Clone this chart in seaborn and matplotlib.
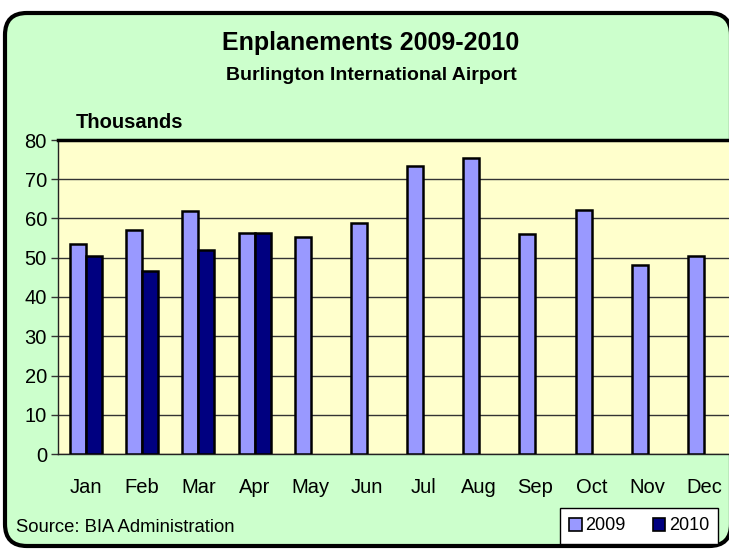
import pandas as pd
import seaborn as sns
import matplotlib.pyplot as plt
from matplotlib.patches import FancyBboxPatch, Patch

# Monthly enplanements, thousands
months = ["Jan", "Feb", "Mar", "Apr", "May", "Jun",
          "Jul", "Aug", "Sep", "Oct", "Nov", "Dec"]
y2009 = [53.5, 57.1, 62.0, 56.4, 55.4, 58.9, 73.5, 75.5, 56.1, 62.1, 48.2, 50.4]
y2010 = [50.5, 46.7, 52.0, 56.2, None, None, None, None, None, None, None, None]
years = ["2009", "2010"]
colors = {"2009": "#9999FF", "2010": "#000080"}

df = pd.DataFrame({"Month": months * 2,
                   "Year": ["2009"] * 12 + ["2010"] * 12,
                   "Value": y2009 + y2010})

sns.set_theme(style="white")
plt.rcParams["font.family"] = ["Liberation Sans", "DejaVu Sans"]
plt.rcParams["text.color"] = "black"
plt.rcParams["xtick.color"] = "black"
plt.rcParams["ytick.color"] = "black"

fig = plt.figure(figsize=(7.29, 5.52), dpi=100)
fig.patch.set_facecolor("white")

# rounded green background box, clipped on the right like the original
W, H = 729, 552
box = FancyBboxPatch((5 / W, 6 / H), 726 / W, 533 / H,
                     boxstyle="round,pad=0,rounding_size=0.03",
                     transform=fig.transFigure, facecolor="#CCFFCC",
                     edgecolor="black", linewidth=3, zorder=-5,
                     mutation_aspect=W / H)
fig.patches.append(box)

ax = fig.add_axes([58 / W, 1 - 454 / H, 674 / W, 314 / H])
ax.set_facecolor("#FFFFCC")

sns.barplot(data=df, x="Month", y="Value", hue="Year", order=months,
            hue_order=years, palette=colors, width=0.57, dodge=True,
            edgecolor="black", linewidth=1.8, saturation=1, legend=False,
            ax=ax, zorder=3)

ax.set_xlim(-0.5, 11.5)
ax.set_ylim(0, 80)
ax.set_yticks(range(0, 81, 10))
ax.yaxis.grid(True, color="#333333", linewidth=1)
ax.set_axisbelow(True)
ax.set_xlabel("")
ax.set_ylabel("")

# ticks at category boundaries, labels at centres
ax.set_xticks([i + 0.5 for i in range(-1, 12)], minor=True)
ax.set_xticks(range(12))
ax.set_xticklabels(months)
ax.tick_params(axis="x", which="major", length=0, labelsize=14.5, pad=17)
ax.tick_params(axis="x", which="minor", length=6, width=1, color="#333333")
ax.tick_params(axis="y", length=5, width=1, labelsize=14.5, left=True,
               color="#333333", pad=3)

for side in ["left", "bottom"]:
    ax.spines[side].set_color("#222222")
    ax.spines[side].set_linewidth(1)
ax.spines["top"].set_color("black")
ax.spines["top"].set_linewidth(2.5)
ax.spines["right"].set_visible(False)

fig.text(371 / W, 1 - 43 / H, "Enplanements 2009-2010", ha="center",
         va="center", fontsize=18, fontweight="bold")
fig.text(371 / W, 1 - 75 / H, "Burlington International Airport",
         ha="center", va="center", fontsize=14, fontweight="bold")
fig.text(76 / W, 1 - 123 / H, "Thousands", ha="left", va="center",
         fontsize=14.5, fontweight="bold")
fig.text(16 / W, 1 - 527 / H, "Source: BIA Administration", ha="left",
         va="center", fontsize=13.3)

handles = [Patch(facecolor=colors[y], edgecolor="black", linewidth=1.2)
           for y in years]
leg = fig.legend(handles, years, loc="center",
                 bbox_to_anchor=(639 / W, 1 - 526 / H), ncol=2,
                 fontsize=13, frameon=True, fancybox=False, framealpha=1,
                 handlelength=0.7, handleheight=0.7, handletextpad=0.2,
                 columnspacing=1.5, borderpad=0.5)
leg.get_frame().set_edgecolor("black")
leg.get_frame().set_linewidth(1)
leg.get_frame().set_facecolor("white")

fig.savefig("out.png", dpi=100)
